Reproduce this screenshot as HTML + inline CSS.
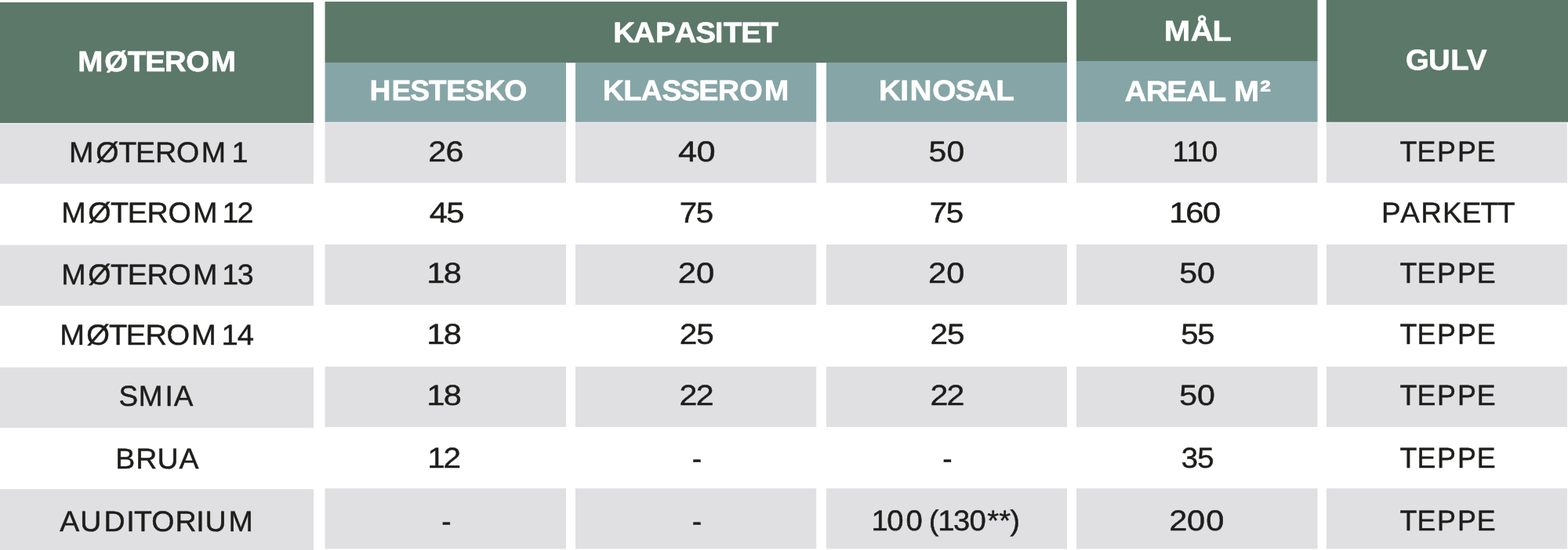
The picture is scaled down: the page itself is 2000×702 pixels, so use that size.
<!DOCTYPE html>
<html lang="nb">
<head>
<meta charset="utf-8">
<title>Møterom – kapasitet</title>
<style>
html,body{margin:0;padding:0;background:#fff;}
body{width:2000px;height:702px;overflow:hidden;}
svg{display:block;}
svg text{font-family:"Liberation Sans",sans-serif;text-rendering:geometricPrecision;white-space:pre;}
.b{font-weight:700;fill:#fff;stroke:#fff;stroke-width:0.6px;stroke-linejoin:round;}
.r{font-weight:400;fill:#1d1d1b;stroke:#1d1d1b;stroke-width:0.45px;stroke-linejoin:round;}
</style>
</head>
<body>
<svg width="2000" height="702" viewBox="0 0 2000 702">
<g id="cells">
<rect x="0" y="3" width="400" height="154" fill="#5b7868"/>
<rect x="414.5" y="2.1" width="946.5" height="77.9" fill="#5b7868"/>
<rect x="414.5" y="79.8" width="307.5" height="76" fill="#86a5a7"/>
<rect x="734" y="79.8" width="307.2" height="76" fill="#86a5a7"/>
<rect x="1054" y="79.8" width="307" height="76" fill="#86a5a7"/>
<rect x="1373" y="-0.2" width="307.5" height="78.2" fill="#5b7868"/>
<rect x="1373" y="77.9" width="307.5" height="77.9" fill="#86a5a7"/>
<rect x="1691.8" y="-0.3" width="308.2" height="156.1" fill="#5b7868"/>
<rect x="0" y="157.5" width="400" height="77.1" fill="#e0e0e3"/>
<rect x="0" y="312.7" width="400" height="77.7" fill="#e0e0e3"/>
<rect x="0" y="468.9" width="400" height="77.1" fill="#e0e0e3"/>
<rect x="0" y="624.2" width="400" height="78.8" fill="#e0e0e3"/>
<rect x="414.5" y="156.3" width="307.5" height="77.1" fill="#e0e0e3"/>
<rect x="414.5" y="312" width="307.5" height="77.1" fill="#e0e0e3"/>
<rect x="414.5" y="467.9" width="307.5" height="77.2" fill="#e0e0e3"/>
<rect x="414.5" y="623.3" width="307.5" height="77.3" fill="#e0e0e3"/>
<rect x="734" y="156.3" width="307.2" height="77.1" fill="#e0e0e3"/>
<rect x="734" y="312" width="307.2" height="77.1" fill="#e0e0e3"/>
<rect x="734" y="467.9" width="307.2" height="77.2" fill="#e0e0e3"/>
<rect x="734" y="623.3" width="307.2" height="77.3" fill="#e0e0e3"/>
<rect x="1054" y="156.3" width="307" height="77.1" fill="#e0e0e3"/>
<rect x="1054" y="312" width="307" height="77.1" fill="#e0e0e3"/>
<rect x="1054" y="467.9" width="307" height="77.2" fill="#e0e0e3"/>
<rect x="1054" y="623.3" width="307" height="77.3" fill="#e0e0e3"/>
<rect x="1373" y="156.3" width="307.5" height="77.1" fill="#e0e0e3"/>
<rect x="1373" y="312" width="307.5" height="77.1" fill="#e0e0e3"/>
<rect x="1373" y="467.9" width="307.5" height="77.2" fill="#e0e0e3"/>
<rect x="1373" y="623.3" width="307.5" height="77.3" fill="#e0e0e3"/>
<rect x="1691.8" y="156.3" width="307.1" height="77.1" fill="#e0e0e3"/>
<rect x="1691.8" y="312" width="307.1" height="77.1" fill="#e0e0e3"/>
<rect x="1691.8" y="467.9" width="307.1" height="77.2" fill="#e0e0e3"/>
<rect x="1691.8" y="623.3" width="307.1" height="77.3" fill="#e0e0e3"/>
</g>
<g id="thead">
<text class="b" font-size="36.63" transform="translate(101 90.75) scale(1.0526 1)" x="-1.68 30.58 58.77 80.03 103.43 129.35 159.27">MØTEROM</text>
<text class="b" font-size="36.63" transform="translate(784.7 53.85) scale(1.0508 1)" x="-2.43 21.84 48.86 72.04 97.49 121 131.45 152.7 175.98">KAPASITET</text>
<text class="b" font-size="36.63" transform="translate(1487.4 52.25) scale(1.0875 1)" x="-2.15 28.91 54.33">MÅL</text>
<text class="b" font-size="36.63" transform="translate(1794.9 88.65) scale(1.0443 1)" x="-1.81 26.05 52.9 72.96">GULV</text>
<text class="b" font-size="36.63" transform="translate(472.8 128.05) scale(1.0167 1)" x="-1.4 26.16 49.67 72.76 94.87 118.38 142.6 167.72">HESTESKO</text>
<text class="b" font-size="36.63" transform="translate(771 128.15) scale(1.0332 1)" x="-2.21 23.38 45.01 70.92 93.38 116.35 140.2 166.61 197.1">KLASSEROM</text>
<text class="b" font-size="36.63" transform="translate(1123.7 128.35) scale(1.0575 1)" x="-2.51 23.2 34.77 61.9 89.67 112.58 138.68">KINOSAL</text>
<text class="b" font-size="36.63" transform="translate(1434 128.65) scale(1.0594 1)" x="0.44 26.25 51.15 74.57 100.52 121.42 131.9">AREAL M<tspan x="163.2" y="0.91" font-size="39.2">²</tspan></text>
</g>
<g id="tbody">
<g>
<text class="r" font-size="36.77" transform="translate(90.5 207.03) scale(1.0234 1)" x="-2.33 31.14 59.3 80.71 104.98 131.49 162.43 195.12 200.38">MØTEROM 1</text>
<text class="r" font-size="36.77" transform="translate(548.3 205.93) scale(1.1223 1)" x="-1.85 18.07">26</text>
<text class="r" font-size="36.77" transform="translate(865.4 205.93) scale(1.1784 1)" x="-0.35 19.63">40</text>
<text class="r" font-size="36.77" transform="translate(1186.3 205.93) scale(1.1105 1)" x="-1.52 18.99">50</text>
<text class="r" font-size="36.77" transform="translate(1502.7 205.93) scale(1.0000 1)" x="-7.12 10.84 29.95">110</text>
<text class="r" font-size="36.77" transform="translate(1785.8 205.93) scale(0.9734 1)" x="-0.33 22.19 48.53 75.17 100.63">TEPPE</text>
</g>
<g>
<text class="r" font-size="36.77" transform="translate(80.7 284.42) scale(1.0250 1)" x="-2.42 30.83 58.81 80.06 104.16 130.48 161.2 193.77 197.9 216.41">MØTEROM 12</text>
<text class="r" font-size="36.77" transform="translate(547.7 283.52) scale(1.1322 1)" x="0.02 18.99">45</text>
<text class="r" font-size="36.77" transform="translate(868.4 283.52) scale(1.0970 1)" x="-1.58 17.55">75</text>
<text class="r" font-size="36.77" transform="translate(1187.5 283.52) scale(1.0970 1)" x="-1.58 17.55">75</text>
<text class="r" font-size="36.77" transform="translate(1498.1 283.52) scale(1.1344 1)" x="-5.97 12.42 31.59">160</text>
<text class="r" font-size="36.77" transform="translate(1764.6 283.52) scale(1.0046 1)" x="-2.62 21.46 47.43 75.07 99.68 123.34 144.73">PARKETT</text>
</g>
<g>
<text class="r" font-size="36.77" transform="translate(80.7 362.62) scale(1.0225 1)" x="-2.38 30.97 59.03 80.35 104.53 130.94 161.75 194.38 198.16 217.24">MØTEROM 13</text>
<text class="r" font-size="36.77" transform="translate(550.8 361.42) scale(1.1287 1)" x="-5.79 13.17">18</text>
<text class="r" font-size="36.77" transform="translate(866.9 361.42) scale(1.1365 1)" x="-1.95 18.52">20</text>
<text class="r" font-size="36.77" transform="translate(1186.3 361.42) scale(1.1286 1)" x="-1.95 18.52">20</text>
<text class="r" font-size="36.77" transform="translate(1505.9 361.42) scale(1.1157 1)" x="-1.52 18.99">50</text>
<text class="r" font-size="36.77" transform="translate(1785.8 361.42) scale(0.9734 1)" x="-0.33 22.19 48.53 75.17 100.63">TEPPE</text>
</g>
<g>
<text class="r" font-size="36.77" transform="translate(78.9 440.42) scale(1.0372 1)" x="-2.57 30.3 58 78.98 102.78 128.8 159.15 191.52 196.19 215.83">MØTEROM 14</text>
<text class="r" font-size="36.77" transform="translate(550.8 439.32) scale(1.1287 1)" x="-5.79 13.17">18</text>
<text class="r" font-size="36.77" transform="translate(868.4 439.32) scale(1.0997 1)" x="-1.58 18.01">25</text>
<text class="r" font-size="36.77" transform="translate(1188.3 439.32) scale(1.0997 1)" x="-1.58 18.01">25</text>
<text class="r" font-size="36.77" transform="translate(1507.4 439.32) scale(1.0863 1)" x="-1.15 18.23">55</text>
<text class="r" font-size="36.77" transform="translate(1785.8 439.32) scale(0.9734 1)" x="-0.33 22.19 48.53 75.17 100.63">TEPPE</text>
</g>
<g>
<text class="r" font-size="36.77" transform="translate(153.5 518.32) scale(1.0041 1)" x="-2.09 23.18 56.69 67.94">SMIA</text>
<text class="r" font-size="36.77" transform="translate(550.8 517.32) scale(1.1287 1)" x="-5.79 13.17">18</text>
<text class="r" font-size="36.77" transform="translate(868.4 517.32) scale(1.1180 1)" x="-1.72 17.26">22</text>
<text class="r" font-size="36.77" transform="translate(1188.3 517.32) scale(1.1180 1)" x="-1.72 17.26">22</text>
<text class="r" font-size="36.77" transform="translate(1505.9 517.32) scale(1.1157 1)" x="-1.52 18.99">50</text>
<text class="r" font-size="36.77" transform="translate(1785.8 517.32) scale(0.9734 1)" x="-0.33 22.19 48.53 75.17 100.63">TEPPE</text>
</g>
<g>
<text class="r" font-size="36.77" transform="translate(149.6 598.32) scale(1.0200 1)" x="-2.29 23.31 49.81 77.41">BRUA</text>
<text class="r" font-size="36.77" transform="translate(552 597.23) scale(1.1030 1)" x="-6.07 12.34">12</text>
<text class="r" font-size="36.77" transform="translate(884 597.62) scale(1.0084 1)" x="-1.15">-</text>
<text class="r" font-size="36.77" transform="translate(1203.3 597.62) scale(1.0084 1)" x="-1.15">-</text>
<text class="r" font-size="36.77" transform="translate(1507.9 597.23) scale(1.0403 1)" x="-1.15 18.53">35</text>
<text class="r" font-size="36.77" transform="translate(1785.8 597.23) scale(0.9734 1)" x="-0.33 22.19 48.53 75.17 100.63">TEPPE</text>
</g>
<g>
<text class="r" font-size="36.77" transform="translate(75.7 678.32) scale(1.0203 1)" x="0.55 26.03 55.58 83.78 93.35 115.22 144.8 170.99 182.2 211.44">AUDITORIUM</text>
<text class="r" font-size="36.77" transform="translate(564.4 677.52) scale(1.0033 1)" x="-1.15">-</text>
<text class="r" font-size="36.77" transform="translate(884 677.52) scale(1.0084 1)" x="-1.15">-</text>
<text class="r" font-size="36.77" transform="translate(1116 677.12) scale(1.0395 1)" x="-4.41 14.66 38.01 59.95 66.22 77.24 96.3 115.86 137.85 152.29 165.82">100 (130**)</text>
<text class="r" font-size="36.77" transform="translate(1493.4 677.12) scale(1.1306 1)" x="-2.01 18.28 39.67">200</text>
<text class="r" font-size="36.77" transform="translate(1785.8 677.12) scale(0.9734 1)" x="-0.33 22.19 48.53 75.17 100.63">TEPPE</text>
</g>
</g>
</svg>
</body>
</html>
